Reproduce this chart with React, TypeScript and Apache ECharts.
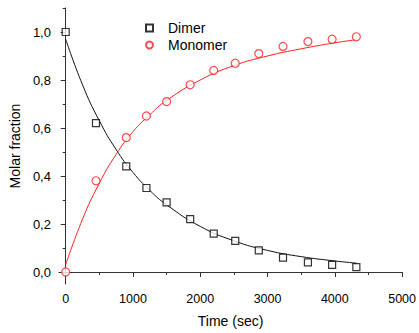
import React, { useEffect, useRef } from "react";
import * as echarts from "echarts";

const timeSec = [0, 450, 900, 1200, 1500, 1850, 2200, 2520, 2870, 3230, 3600, 3960, 4320];
const dimerValues = [1.0, 0.62, 0.44, 0.35, 0.29, 0.22, 0.16, 0.13, 0.09, 0.06, 0.04, 0.03, 0.02];
const monomerValues = [0.0, 0.38, 0.56, 0.65, 0.71, 0.78, 0.84, 0.87, 0.91, 0.94, 0.96, 0.97, 0.98];

const fitTime = [0, 250, 500, 750, 1000, 1250, 1500, 2000, 2500, 3000, 3500, 4000, 4320];
const dimerFit = [0.97, 0.78, 0.63, 0.51, 0.415, 0.34, 0.28, 0.19, 0.13, 0.09, 0.064, 0.046, 0.037];
const monomerFit = [0.03, 0.22, 0.37, 0.49, 0.585, 0.655, 0.715, 0.8, 0.86, 0.9, 0.93, 0.955, 0.968];

const yMajor = [0, 0.2, 0.4, 0.6, 0.8, 1.0];
const yMinor = [0.1, 0.3, 0.5, 0.7, 0.9, 1.1];
const xMajor = [0, 1000, 2000, 3000, 4000, 5000];
const xMinor = [500, 1500, 2500, 3500, 4500];

const FONT = "Liberation Sans, Arial, sans-serif";
const AXIS = "#333";

export default function App() {
  const ref = useRef<HTMLDivElement>(null);
  useEffect(() => {
    if (!ref.current) return;
    const chart = echarts.init(ref.current, undefined, { renderer: "svg" });
    const pair = (xs: number[], ys: number[]) => xs.map((x, i) => [x, ys[i]]);
    const xBase = { type: "value", min: -100, max: 5000, splitLine: { show: false } };
    const yBase = { type: "value", min: -0.05, max: 1.1, splitLine: { show: false } };
    chart.setOption({
      animation: false,
      textStyle: { fontFamily: FONT },
      grid: { left: 57, top: 8, right: 12, bottom: 43, containLabel: false },
      legend: {
        data: ["Dimer", "Monomer"],
        orient: "vertical",
        left: 140,
        top: 16,
        itemWidth: 7,
        itemHeight: 7,
        itemGap: 3,
        textStyle: {
          fontFamily: FONT,
          fontSize: 14,
          lineHeight: 14,
          color: "#000",
          padding: [0, 0, 0, 10],
        },
      },
      xAxis: [
        {
          ...xBase,
          position: "bottom",
          name: "Time (sec)",
          nameLocation: "middle",
          nameGap: 30,
          nameTextStyle: { fontFamily: FONT, fontSize: 14, color: "#000" },
          axisLine: { show: true, lineStyle: { color: AXIS, width: 1 } },
          axisTick: { show: true, length: 5, customValues: xMajor, lineStyle: { color: AXIS } },
          axisLabel: {
            customValues: xMajor,
            fontFamily: FONT,
            fontSize: 12.5,
            color: "#000",
            margin: 8,
            formatter: (v: number) => String(v),
          },
        },
        {
          ...xBase,
          position: "bottom",
          axisLine: { show: false },
          axisTick: { show: true, length: 3, customValues: xMinor, lineStyle: { color: AXIS } },
          axisLabel: { show: false },
        },
      ],
      yAxis: [
        {
          ...yBase,
          position: "left",
          name: "Molar fraction",
          nameLocation: "middle",
          nameGap: 33,
          nameTextStyle: { fontFamily: FONT, fontSize: 14, color: "#000" },
          axisLine: { show: true, lineStyle: { color: AXIS, width: 1 } },
          axisTick: { show: true, length: 5, customValues: yMajor, lineStyle: { color: AXIS } },
          axisLabel: {
            customValues: yMajor,
            fontFamily: FONT,
            fontSize: 13,
            color: "#000",
            margin: 8,
            formatter: (v: number) => v.toFixed(1).replace(".", ","),
          },
        },
        {
          ...yBase,
          position: "left",
          axisLine: { show: false },
          axisTick: { show: true, length: 3, customValues: yMinor, lineStyle: { color: AXIS } },
          axisLabel: { show: false },
        },
      ],
      series: [
        {
          name: "Dimer fit",
          type: "line",
          data: pair(fitTime, dimerFit),
          smooth: true,
          showSymbol: false,
          lineStyle: { color: "#111", width: 1 },
          silent: true,
        },
        {
          name: "Monomer fit",
          type: "line",
          data: pair(fitTime, monomerFit),
          smooth: true,
          showSymbol: false,
          lineStyle: { color: "#ff2020", width: 1 },
          silent: true,
        },
        {
          name: "Dimer",
          type: "scatter",
          symbol: "rect",
          symbolSize: 7,
          data: pair(timeSec, dimerValues),
          itemStyle: { color: "#fff", borderColor: "#000", borderWidth: 1.2 },
          z: 5,
        },
        {
          name: "Monomer",
          type: "scatter",
          symbol: "circle",
          symbolSize: 8,
          data: pair(timeSec, monomerValues),
          itemStyle: { color: "#fff", borderColor: "#ff2020", borderWidth: 1.2 },
          z: 5,
        },
      ],
    });
    return () => chart.dispose();
  }, []);
  return (
    <div
      ref={ref}
      style={{ position: "fixed", left: 0, top: 0, width: 419, height: 333, background: "#fff" }}
    />
  );
}
